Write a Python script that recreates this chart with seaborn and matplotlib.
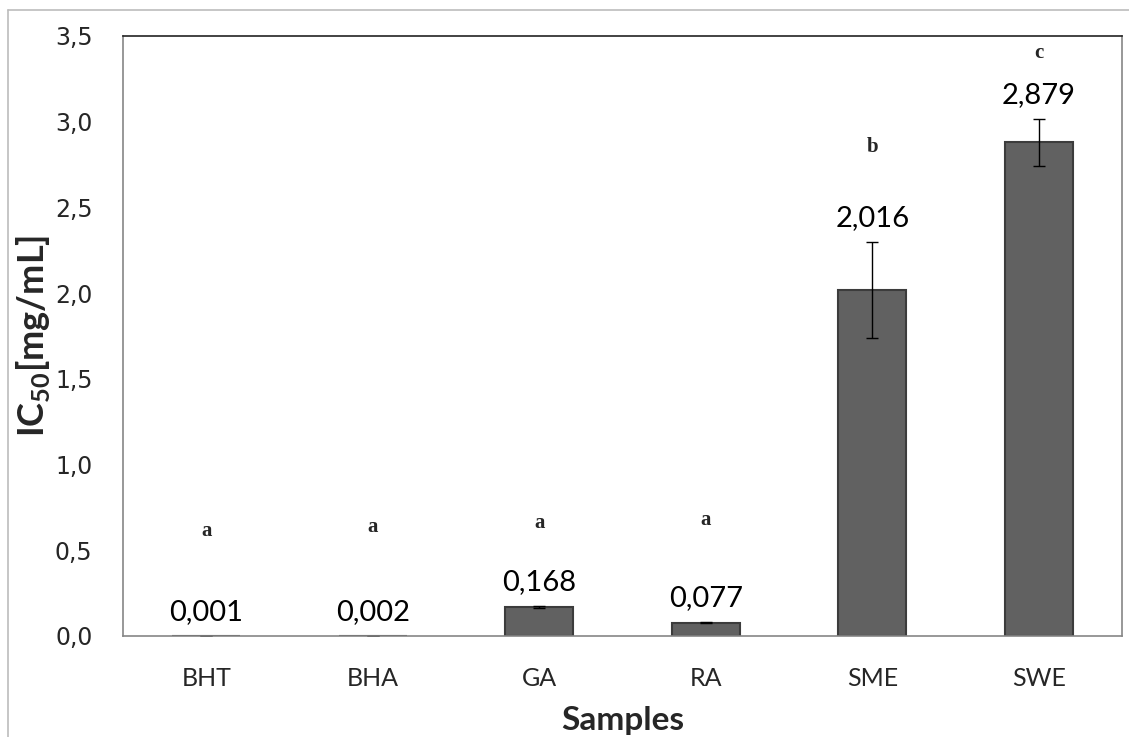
import matplotlib
matplotlib.use("Agg")
import matplotlib.pyplot as plt
import seaborn as sns
from matplotlib.lines import Line2D
from matplotlib.ticker import FixedLocator

# datos
samples = ["BHT", "BHA", "GA", "RA", "SME", "SWE"]
ic50 = [0.001, 0.002, 0.168, 0.077, 2.016, 2.879]
sd = [0.0, 0.0, 0.005, 0.004, 0.28, 0.135]
value_labels = ["0,001", "0,002", "0,168", "0,077", "2,016", "2,879"]
letters = ["a", "a", "a", "a", "b", "c"]
letter_y = [0.614, 0.637, 0.66, 0.678, 2.85, 3.40]
yticks = [0.0, 0.5, 1.0, 1.5, 2.0, 2.5, 3.0, 3.5]
ytick_labels = ["0,0", "0,5", "1,0", "1,5", "2,0", "2,5", "3,0", "3,5"]

sns.set_theme(style="white")
plt.rcParams["font.family"] = ["Lato", "DejaVu Sans"]
plt.rcParams["mathtext.fontset"] = "custom"
plt.rcParams["mathtext.rm"] = "Lato"
plt.rcParams["mathtext.bf"] = "Lato:bold"

fig = plt.figure(figsize=(11.29, 7.37), dpi=100)
ax = fig.add_axes([123 / 1129, 101 / 737, 999 / 1129, 600 / 737])

sns.barplot(x=samples, y=ic50, color="#616161", width=0.41,
            edgecolor="#3c3c3c", linewidth=1.5, saturation=1, ax=ax)
ax.errorbar(range(len(samples)), ic50, yerr=sd, fmt="none",
            ecolor="black", elinewidth=1, capsize=4, capthick=1)

# etiquetas de valor y letras de significancia
for i, (v, e) in enumerate(zip(ic50, sd)):
    ax.text(i, v + e + 0.14, value_labels[i], ha="center", va="center",
            fontsize=21, color="black")
    ax.text(i, letter_y[i], letters[i], ha="center", va="center",
            fontsize=15, fontweight="bold", family="Liberation Serif")

ax.set_ylim(0, 3.5)
ax.set_xlim(-0.5, len(samples) - 0.5)
ax.set_yticks(yticks)
ax.set_yticklabels(ytick_labels, fontsize=17, family="DejaVu Sans")
ax.set_xticks(range(len(samples)))
ax.set_xticklabels(samples, fontsize=18)
ax.xaxis.set_minor_locator(FixedLocator([i - 0.5 for i in range(len(samples) + 1)]))
ax.tick_params(axis="x", which="major", length=0, pad=22)
ax.tick_params(axis="x", which="minor", length=8, width=1, color="#868686", direction="out")
ax.tick_params(axis="y", length=8, width=1, color="#868686", direction="out", pad=14)

ax.set_xlabel("Samples", fontsize=24, fontweight="bold", labelpad=12)
ax.set_ylabel(r"IC$_{\mathbf{50}}$[mg/mL]", fontsize=26, fontweight="bold", labelpad=2)

for s in ["left", "bottom", "right"]:
    ax.spines[s].set_color("#868686")
    ax.spines[s].set_linewidth(1.2)
ax.spines["top"].set_color("#222222")
ax.spines["top"].set_linewidth(1.2)

# marco exterior del grafico
fig.add_artist(Line2D([8 / 1129, 8 / 1129], [0, 1 - 10 / 737], color="#bcbcbc", lw=1.2))
fig.add_artist(Line2D([8 / 1129, 1], [1 - 10 / 737, 1 - 10 / 737], color="#bcbcbc", lw=1.2))

fig.savefig("out.png", dpi=100)
